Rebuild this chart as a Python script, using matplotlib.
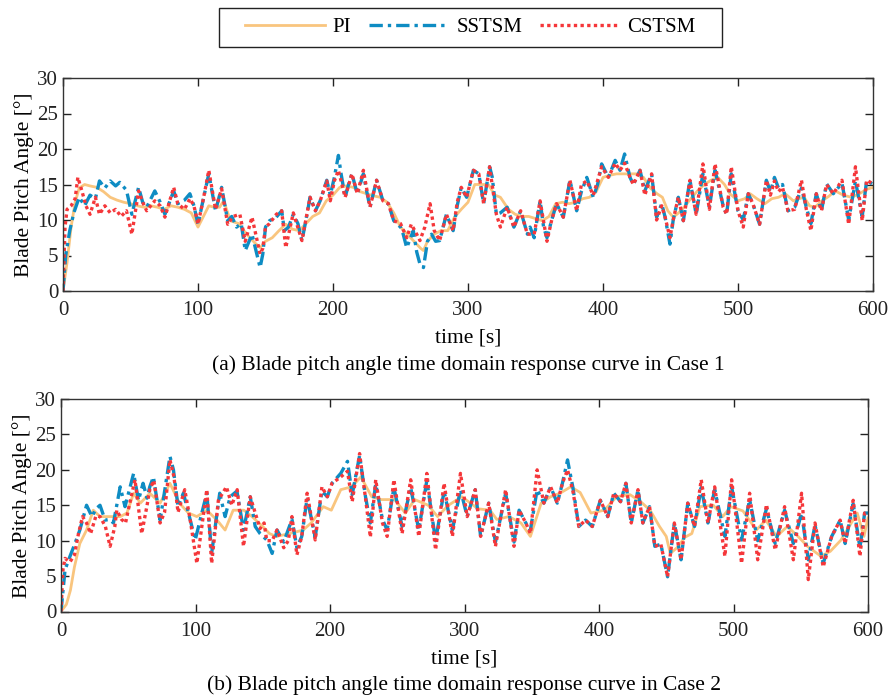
import matplotlib
matplotlib.use("Agg")
import matplotlib.pyplot as plt
from matplotlib.patches import Rectangle

plt.rcParams['font.family'] = ['Liberation Serif', 'DejaVu Serif']

# ---------------- Case 1 ----------------
c1_pi_t = [0, 3, 6, 9, 12, 16, 20, 25, 30, 35, 40, 45, 50, 55, 60, 65, 70, 75, 80, 85, 90, 95, 100,
           104, 108, 112, 116, 119, 124, 130, 136, 142, 146, 150, 155, 160, 165, 170, 175, 180, 185,
           190, 195, 200, 205, 210, 215, 220, 225, 230, 235, 240, 245, 250, 255, 260, 265, 267, 270,
           275, 280, 285, 290, 295, 300, 305, 310, 315, 320, 324, 330, 335, 340, 345, 350, 355, 360,
           365, 370, 375, 380, 385, 390, 395, 400, 405, 410, 415, 420, 425, 430, 435, 440, 444, 448,
           452, 456, 460, 465, 470, 475, 480, 485, 490, 494, 500, 505, 509, 514, 520, 525, 530, 535,
           541, 545, 549, 553, 557, 562, 567, 572, 578, 584, 590, 595, 600]
c1_pi = [0, 4, 9, 12.5, 14.5, 15, 14.8, 14.6, 14, 13.2, 12.8, 12.5, 12.3, 12, 11.8, 12, 11.8, 11.5,
         12, 11.8, 11.5, 11, 9, 10.5, 12, 11.8, 11.8, 12.7, 9.9, 9.5, 8, 6.8, 6.1, 7, 7.5, 8.5, 9.4,
         8.7, 8.5, 9.5, 10.5, 11, 12.7, 13.5, 14.6, 14.8, 14.6, 14, 13.7, 13.4, 13.2, 12.5, 11, 9, 8,
         7, 6, 5.7, 7, 8, 8.5, 8.5, 10.4, 11.5, 12.5, 15, 15, 15, 13.5, 13.2, 11.5, 10.8, 10.5, 10.5,
         10.2, 9.9, 10.5, 12.3, 12.5, 12.3, 12.5, 13, 13.2, 14, 16, 16.3, 16.5, 16.5, 16.5, 16.5, 16,
         14.5, 13.7, 13.2, 11.3, 10.4, 11, 11.8, 13, 14.1, 15, 15.6, 16, 15, 13.7, 12.7, 13, 13.7, 13,
         12.3, 13, 13.2, 13.7, 12.7, 13, 13.2, 12, 11.8, 12.7, 13.3, 14.1, 13.5, 13.2, 13.7, 14.3, 14.6]

c1_ss_t = [0, 2, 5, 8, 12, 16, 20, 24, 27, 31, 35, 39, 42, 47, 51, 56, 59, 62, 68, 72, 75.5, 82, 85,
           90, 94, 97, 100, 104, 108, 113, 117.5, 122, 125, 128.6, 132, 135, 140, 146, 148, 150, 153,
           158, 162, 164, 167, 170.6, 174, 177, 180, 183, 187, 190.5, 195.4, 198, 201, 204, 206, 209,
           211.5, 214, 218, 222.5, 225, 227.4, 232.3, 237, 241, 245, 250, 252, 254.6, 259.5, 262,
           264.4, 267, 270, 273, 276, 279, 284, 289, 292, 295, 299, 304, 308, 311.6, 316, 318, 321,
           324, 329, 334, 339, 344, 346, 349, 353.4, 356, 358.5, 362, 365.6, 370.6, 375.5, 380.5,
           384, 388, 392.8, 396, 399, 404, 409, 412.6, 416, 420, 422.5, 427.4, 431, 436, 439.7, 443.5,
           446, 449.6, 452, 455.8, 459.5, 464.4, 469, 474, 478.8, 483, 489, 491.6, 495, 500, 503.9,
           507.6, 511, 516, 521, 524, 527, 530, 533, 537, 542, 547, 550.6, 554, 558, 561.8, 565.6,
           570.6, 577, 582, 587, 592, 595.3, 600]
c1_ss = [0, 5, 8.5, 11, 13.2, 12, 13.5, 13, 15.5, 14.5, 15.5, 14.8, 15.3, 14.2, 10.8, 14.6, 12.5,
         11.8, 14.1, 12.5, 10.8, 14.1, 12.3, 12.8, 13.7, 12, 9.4, 13, 16.5, 11.3, 14.6, 9.9, 10.5, 9,
         9.5, 5.7, 8, 3.3, 5.2, 9, 9.9, 10.4, 11.3, 8.5, 9, 10.8, 9.5, 7.1, 10, 13.2, 11.3, 12.7, 15.6,
         13.5, 16, 19.1, 16.5, 13.2, 15, 16.5, 13.7, 16.5, 14, 11.8, 15.6, 12.7, 12.3, 9.9, 9, 8, 6.1,
         8.5, 5.5, 3.8, 3.3, 7, 8, 7, 7.1, 10.8, 8.5, 12, 14.6, 13.2, 17, 16.5, 12.3, 17.5, 16, 10.8,
         11, 11.8, 9, 11.3, 8, 9, 7.5, 12.7, 9, 7.5, 10, 12.3, 10.4, 15.6, 11.3, 14, 16, 13.2, 15,
         17.9, 16, 18.4, 17, 19.3, 16, 15, 17, 14.1, 16.5, 10.4, 12.3, 10.4, 6.6, 10, 13.2, 9.9, 15.6,
         10.8, 16.5, 11.8, 17, 12, 10.8, 16.5, 11.3, 10, 13.7, 12.3, 9.4, 15.6, 14, 16, 14.5, 15,
         11.3, 11.8, 14.5, 11.8, 9.5, 13.7, 11.3, 15.1, 13.7, 15.2, 10, 15.5, 10.5, 15.6, 15]

c1_cs_t = [0, 1.5, 3, 6, 9, 11, 14, 17, 20, 24, 27, 31, 35, 39, 43, 47, 51, 56, 59, 62, 68, 72, 75.5,
           82, 85, 90, 94, 97, 100, 104, 108, 113, 117.5, 122, 126, 131, 135, 140, 146, 148, 150,
           153, 158, 162, 165, 170.6, 177, 183, 187, 190.5, 195.4, 198, 201, 204, 209, 214, 218,
           222.5, 227.4, 232.3, 237, 241, 245, 250, 254.6, 258, 262, 264.4, 268, 271.9, 275, 279,
           284, 289, 292, 295, 299, 304, 308, 311.6, 316, 321, 324, 329, 334, 339, 344, 349, 353.4,
           358.5, 362, 365.6, 370.6, 375.5, 380.5, 384, 388, 392.8, 399, 404, 409, 412.6, 416, 420,
           422.5, 427.4, 431, 436, 439.7, 443.5, 446, 449.6, 452, 455.8, 459.5, 464.4, 469, 474,
           478.8, 483, 489, 491.6, 495, 500, 503.9, 507.6, 511, 516, 521, 524, 527, 530, 533, 537,
           542, 547, 550.6, 554, 558, 561.8, 565.6, 570.6, 577, 582, 587, 592, 595.3, 600]
c1_cs = [0, 9, 11.5, 12, 13, 16, 14.1, 12, 10.8, 13.2, 10.8, 12, 11, 11.5, 10.5, 11.3, 8, 14.1,
         12.5, 11.3, 12.7, 12, 10.4, 14.6, 12.3, 11.5, 13, 12, 9.4, 13, 17, 11.5, 14.4, 9.4, 10.5,
         10.8, 7, 10.4, 5.2, 6, 9, 9.5, 10.8, 11.3, 6.1, 11, 7.1, 13.2, 11.3, 12.7, 15.5, 12.7, 15.5,
         17, 13.2, 16.5, 13.7, 17, 11.8, 15.6, 12.7, 12.3, 9.9, 9.5, 7.5, 9.4, 8, 7.1, 9, 12.3, 8.5,
         7.1, 10.8, 8.5, 12.5, 14.6, 13.2, 17, 16.5, 12.3, 17.5, 10.8, 9, 11.8, 9, 11.3, 8, 8, 12.7,
         7, 10, 12.3, 10.4, 15.6, 11.3, 15, 15.5, 13.5, 17.5, 16, 18, 17, 18, 16, 15, 17, 13.5, 16.5,
         10, 12, 10.4, 7.5, 10, 13.2, 9.9, 15.6, 10.8, 17.9, 11.5, 17.9, 11.8, 10.8, 17.5, 11.3, 9,
         13.7, 12.3, 9.4, 15.6, 13.5, 15.5, 14, 14.6, 11.3, 11.5, 15.6, 11.5, 8.5, 13.7, 11.3, 15,
         13.7, 15.6, 9.4, 17.5, 9.9, 15.6, 15.1]

# ---------------- Case 2 ----------------
c2_pi_t = [0, 4, 7, 10, 14, 19, 24, 29, 35, 40, 44, 49, 54, 59, 66, 73.7, 81, 88, 94.8, 101, 108.4,
           116, 122, 128, 136, 142, 150, 155, 160, 170, 180, 186, 195, 201, 208, 216, 223, 231, 238,
           248, 256, 263, 273, 280, 288, 298, 303, 310, 319, 324, 333, 342, 349, 357, 364, 371, 379,
           386, 394, 404, 413, 423, 431, 438, 445, 450, 453, 458, 464, 469, 475, 485, 492, 498, 507,
           517, 524, 532, 540, 548, 555, 565, 572, 580, 592, 597, 600]
c2_pi = [0, 1, 3, 6.3, 9.6, 11.5, 14.3, 13.4, 13.4, 13.4, 13.4, 13.9, 16.7, 15.3, 16.7, 15.3, 18.1,
         15.3, 13.9, 13.4, 14.3, 12.9, 11.5, 14.3, 14.3, 13.4, 12, 11, 10.6, 11, 11.5, 12.5, 14.8,
         14.3, 17.2, 17.6, 19, 16.2, 15.8, 15.8, 13.9, 15.8, 15, 13.4, 15, 16.2, 15.5, 14.5, 14.3, 13,
         13.4, 12.5, 10.6, 15.3, 16.2, 16.7, 17.6, 16.8, 13.9, 14.3, 16.2, 16.5, 15.5, 14.3, 12, 10.6,
         8.2, 9, 10.5, 11, 14.8, 15, 13.4, 14.8, 14.2, 11.5, 12.9, 10.6, 12, 10.6, 9.2, 7.8, 8.5, 10.1,
         13.9, 10.6, 13.2]

c2_ss_t = [0, 3, 6.7, 10.4, 14, 19, 23, 26, 29, 32.8, 36, 39, 44, 47.6, 54, 57.6, 61, 64, 66, 68.7,
           73.7, 76, 81, 83.6, 87, 91, 94.8, 99.8, 104.7, 108.4, 112, 118, 122, 125.8, 130.8, 135.7,
           140.7, 144.4, 148, 153, 157, 160.6, 165.6, 171.7, 175.4, 179, 183, 189, 194, 198, 201.5,
           208, 213, 216.5, 222, 226.4, 230, 234, 239, 242.5, 247.5, 253.6, 260, 266, 272, 278.5,
           284.8, 291, 297, 302, 308, 312, 318, 323, 330.6, 336.8, 340.6, 345.6, 349, 354, 359, 364,
           369, 372.8, 376.6, 380.6, 385, 390, 395, 401, 406.5, 411, 416, 420, 424, 429, 432.6,
           437.6, 441.5, 446, 451, 456, 461, 466, 471, 476, 481, 486, 493.6, 498.6, 506, 512, 518,
           524.5, 531, 538, 544.5, 550.6, 555.6, 560.6, 566.7, 573, 579.3, 583, 589, 594, 597.5, 600]
c2_ss = [0, 5.9, 7.8, 9.6, 11.5, 15, 13.4, 14.5, 15, 12.9, 13, 12.5, 17.6, 14.8, 19.5, 15.7, 18.1,
         16, 17.6, 19, 12.9, 15.7, 21.9, 20, 14.8, 16.7, 13.9, 10.1, 13.9, 16.7, 8.2, 16.7, 13.4,
         16.2, 17, 11.5, 16.2, 12, 11, 10.1, 8.2, 11.5, 9.8, 13, 9, 10.6, 16, 10.5, 17, 16.2, 18.1,
         19.5, 21.2, 16.5, 22, 16.2, 12.5, 18, 13, 11.5, 17.5, 12, 17.5, 11.5, 18.5, 10, 17, 11.5,
         17.2, 13.4, 17.2, 10.6, 15.3, 9.8, 16.7, 9.8, 14.3, 12.5, 11.5, 17.2, 15.3, 17.6, 15.3,
         18.1, 21.4, 17.5, 12, 12.9, 12, 15.7, 13.4, 16.7, 15.5, 18.1, 12.5, 17.2, 12.5, 14.8, 9.2,
         9.5, 4.9, 12.5, 7.3, 15.3, 12, 17.5, 12.5, 17.2, 10.6, 17.6, 10.1, 15.8, 10, 14.5, 9.6,
         14.3, 9.6, 13.9, 7.3, 12.2, 6.8, 10.6, 12.9, 9.6, 15.2, 9, 13.9, 13.9]

c2_cs_t = [0, 1.5, 3, 6.7, 10, 13, 16, 19, 22, 26, 29, 33, 36.5, 40, 41.5, 45, 48, 50, 55, 60, 64,
           66, 69, 73.7, 77, 81, 84, 87, 92, 96, 101, 104.7, 108.4, 112, 117, 123, 127, 131, 135.7,
           140.7, 148, 151, 153, 157, 160.6, 165.6, 169, 171.7, 175.4, 179, 183, 189, 194, 198,
           201.5, 208, 213, 216.5, 222, 226.4, 230, 234, 239, 242.5, 247.5, 253.6, 260, 266, 272,
           278.5, 284.8, 291, 297, 302, 308, 312, 318, 323, 330.6, 336.8, 340.6, 345.6, 349, 354,
           359, 364, 369, 372.8, 376.6, 380.6, 385, 390, 395, 401, 406.5, 411, 416, 420, 424, 429,
           432.6, 437.6, 441.5, 446, 451, 456, 461, 466, 471, 476, 481, 486, 493.6, 498.6, 506, 512,
           518, 524.5, 531, 538, 544.5, 550.6, 555.6, 560.6, 566.7, 573, 579.3, 583, 589, 594, 597.5,
           600]
c2_cs = [0, 6, 7.5, 7, 8, 11, 13.4, 12.5, 11, 13.5, 13.4, 12, 9.2, 12, 14.3, 13, 12.5, 14.3, 18.6,
         11, 15, 17.2, 18.5, 12.5, 14, 21.4, 19, 14, 17.2, 13, 6.8, 12, 17.2, 6.8, 15.7, 17.6, 15,
         17.2, 9.2, 16.2, 11.7, 12.5, 10, 10, 11.5, 9, 10, 13.4, 8, 10.6, 16.7, 10.1, 17.6, 16.2,
         18.1, 19, 19.8, 15.5, 22.3, 16, 10.5, 18.6, 12.5, 10.6, 18.6, 11, 18.6, 10.6, 19.5, 8.7,
         18.1, 10.6, 19.5, 13.4, 17.2, 10.6, 15.3, 9.2, 17.2, 9.2, 14.3, 12.5, 11, 20, 15.3, 17.6,
         15.3, 18.1, 20, 17, 12, 12.9, 12, 15.7, 13.4, 16.7, 15.5, 18.1, 12.5, 17.2, 12.5, 14.8, 9.2,
         9.5, 4.9, 12.5, 7.3, 15.3, 12, 18.6, 12.5, 17.6, 7.8, 18.6, 6.8, 16.7, 7.3, 15.1, 8.7, 14.8,
         7.3, 16.7, 4.5, 12.5, 6.3, 10.6, 12.9, 9.6, 15.7, 7.8, 13.9, 13.9]

series_names = ['PI', 'SSTSM', 'CSTSM']
x_ticks = [0, 100, 200, 300, 400, 500, 600]
y_ticks = [0, 5, 10, 15, 20, 25, 30]
captions = ['(a) Blade pitch angle time domain response curve in Case 1',
            '(b) Blade pitch angle time domain response curve in Case 2']

col_pi = '#F9C57E'
col_ss = '#0E8CC3'
col_cs = '#F5373A'

W, H = 893, 695
fig = plt.figure(figsize=(W / 100, H / 100), dpi=100)
ax1 = fig.add_axes([63 / W, 1 - 291 / H, 810 / W, 213 / H])
ax2 = fig.add_axes([61 / W, 1 - 611.5 / H, 807 / W, 212.5 / H])

cases = [
    (ax1, (c1_pi_t, c1_pi), (c1_ss_t, c1_ss), (c1_cs_t, c1_cs), captions[0]),
    (ax2, (c2_pi_t, c2_pi), (c2_ss_t, c2_ss), (c2_cs_t, c2_cs), captions[1]),
]

handles = None
for ax, pi, ss, cs, cap in cases:
    h1, = ax.plot(pi[0], pi[1], color=col_pi, lw=2.0, ls='-', label=series_names[0])
    h2, = ax.plot(ss[0], ss[1], color=col_ss, lw=2.4, ls=(0, (4, 1.5, 1, 1.5)), label=series_names[1])
    h3, = ax.plot(cs[0], cs[1], color=col_cs, lw=2.4, ls=(0, (1, 1)), label=series_names[2])
    handles = [h1, h2, h3]
    ax.set_xlim(0, 600)
    ax.set_ylim(0, 30)
    ax.set_xticks(x_ticks)
    ax.set_yticks(y_ticks)
    ax.tick_params(direction='in', length=6, width=1, top=True, right=True,
                   labelsize=15, colors='#222222')
    ax.tick_params(axis='x', pad=7.5)
    ax.tick_params(axis='y', pad=3.5)
    for sp in ax.spines.values():
        sp.set_color('#333333')
        sp.set_linewidth(1.0)
    ax.set_xlabel('time [s]', fontsize=15.5, labelpad=6)
    ax.set_ylabel('Blade Pitch Angle [°]', fontsize=15.5, labelpad=2)
    ax.text(0.5, -74 / 213, cap, transform=ax.transAxes, ha='center', va='center', fontsize=15.5)

leg = fig.legend(handles, series_names, loc='center', ncol=3,
                 bbox_to_anchor=(470.5 / W, 1 - 27.5 / H), frameon=False,
                 fontsize=15, handlelength=3.85, columnspacing=0.85, handletextpad=0.35,
                 borderpad=0.0)

# legend frame
fig.patches.append(Rectangle((219 / W, 1 - 47 / H), 503 / W, 39 / H, transform=fig.transFigure,
                             fill=False, edgecolor='#222222', linewidth=1.0))

fig.savefig('out.png', dpi=100)
